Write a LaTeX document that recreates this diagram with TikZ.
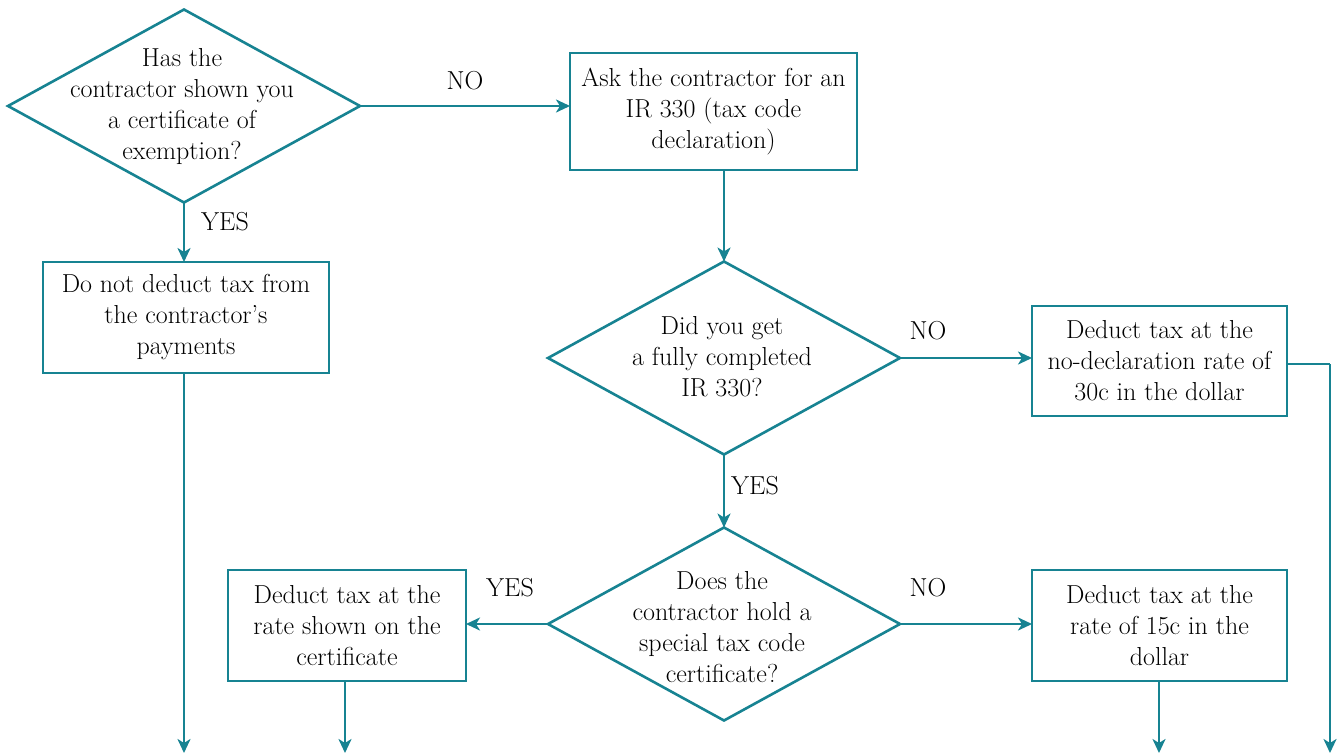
\documentclass[tikz,border=0pt]{standalone}
\usepackage{fontspec}
\usetikzlibrary{shapes.geometric,arrows.meta}
\definecolor{teal}{RGB}{23,131,146}
\begin{document}
\begin{tikzpicture}[x=1pt,y=-1pt,
  every node/.style={font=\fontsize{26}{31}\selectfont},
  dia/.style={draw=teal,line width=2.6pt,shape=diamond,inner sep=0pt,outer sep=0pt,minimum width=352pt,minimum height=193pt},
  txt/.style={align=center,inner sep=0pt},
  box/.style={draw=teal,line width=2.6pt,align=center,inner sep=0pt,outer sep=0pt},
  lbl/.style={inner sep=0pt},
  arr/.style={draw=teal,line width=2.6pt,-{Stealth[length=14pt,width=13pt,inset=4pt]}},
  ln/.style={draw=teal,line width=2.6pt}]
\useasboundingbox (0,0) rectangle (1338,755);
\fill[white] (0,0) rectangle (1338,755);
% diamonds
\node[dia] (d1) at (184,106) {};
\node[txt] (t1) at (182,107) {Has the\\contractor shown you\\a certificate of\\exemption?};
\node[dia] (d2) at (724,358) {};
\node[txt] (t2) at (722,357) {Did you get\\a fully completed\\IR 330?};
\node[dia] (d3) at (724,624) {};
\node[txt] (t3) at (722,627) {Does the\\contractor hold a\\special tax code\\certificate?};
% boxes
\node[box,minimum width=286pt,minimum height=111pt] (b1) at (186,317.5) {Do not deduct tax from\\the contractor's\\payments};
\node[box,minimum width=287pt,minimum height=117pt] (b2) at (713.5,111.5) {Ask the contractor for an\\IR 330 (tax code\\declaration)};
\node[box,minimum width=255pt,minimum height=110pt] (b3) at (1159.5,361) {Deduct tax at the\\no-declaration rate of\\30c in the dollar};
\node[box,minimum width=238pt,minimum height=111pt] (b4) at (347,625.5) {Deduct tax at the\\rate shown on the\\certificate};
\node[box,minimum width=255pt,minimum height=111pt] (b5) at (1159.5,625.5) {Deduct tax at the\\rate of 15c in the\\dollar};
% labels
\node[lbl] (n1) at (465,81) {NO};
\node[lbl] (y1) at (225,222) {YES};
\node[lbl] (n2) at (928,331) {NO};
\node[lbl] (y2) at (755,486) {YES};
\node[lbl] (y3) at (510,588) {YES};
\node[lbl] (n3) at (928,588) {NO};
% end coordinates
\coordinate (e1) at (184,753);
\coordinate (e4) at (345,753);
\coordinate (e5) at (1159,753);
\coordinate (c3) at (1330,364);
\coordinate (e3) at (1330,753);
% connectors
\draw[arr] (d1.east) -- (d1.east -| b2.west);
\draw[arr] (d1.south) -- (d1.south |- b1.north);
\draw[arr] (b1.south -| e1) -- (e1);
\draw[arr] (b2.south -| d2.north) -- (d2.north);
\draw[arr] (d2.east) -- (d2.east -| b3.west);
\draw[arr] (d2.south) -- (d3.north);
\draw[arr] (d3.west) -- (d3.west -| b4.east);
\draw[arr] (d3.east) -- (d3.east -| b5.west);
\draw[arr] (b4.south -| e4) -- (e4);
\draw[arr] (b5.south -| e5) -- (e5);
\draw[ln] (b3.east |- c3) -- (c3);
\draw[arr] (c3) -- (e3);
\end{tikzpicture}
\end{document}
